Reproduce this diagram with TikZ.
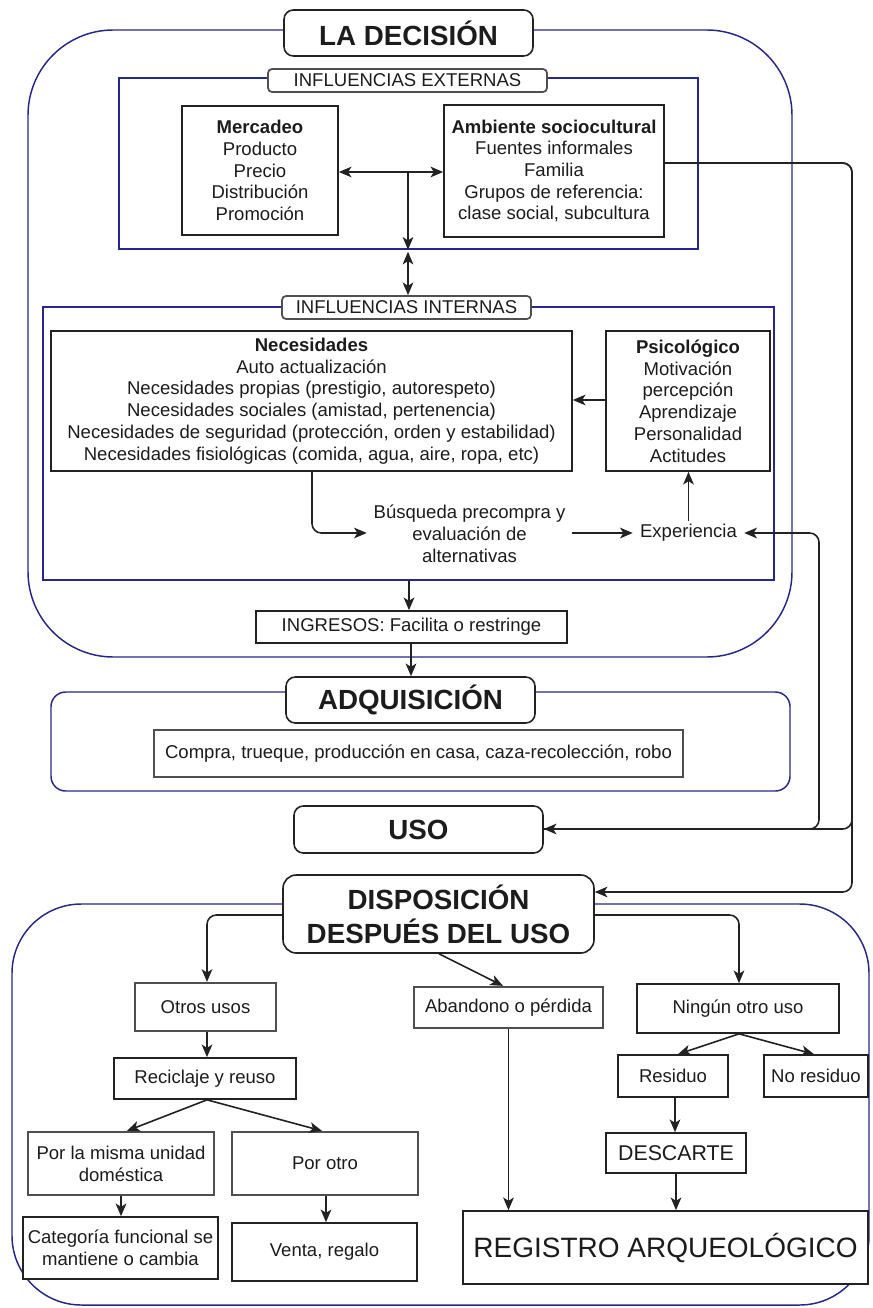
\documentclass[tikz,border=0pt]{standalone}
\usepackage{fontspec}
\setmainfont{Liberation Sans}
\usetikzlibrary{arrows.meta}
\definecolor{navy}{HTML}{26268C}
\definecolor{ink}{HTML}{222222}
\definecolor{edge}{HTML}{4F4F4F}
\definecolor{txt}{HTML}{1C1C1C}
\begin{document}
\begin{tikzpicture}[x=0.75pt,y=-0.75pt,
  every node/.style={font=\fontsize{13.9pt}{16.3pt}\selectfont, text=txt, align=center, inner sep=0pt},
  wh/.style 2 args={minimum width=#1*0.75pt, minimum height=#2*0.75pt},
  frame/.style={draw=navy, line width=1.1pt},
  plain/.style={draw=ink, line width=1.25pt, fill=white},
  graybox/.style={draw=edge, line width=1.7pt, fill=white},
  title/.style={draw=ink, line width=1.2pt, fill=white, rounded corners=7pt,
    font=\bfseries\fontsize{20.8pt}{25.5pt}\selectfont},
  tag/.style={draw=edge, line width=1.3pt, fill=white, rounded corners=3pt},
  tip/.tip={Stealth[length=9.5pt,width=8pt,inset=2.5pt]},
  link/.style={draw=ink, line width=1.2pt, rounded corners=7pt, -tip},
  both/.style={link, tip-tip}
]
\useasboundingbox (0,0) rectangle (872,1308);

% ---- frames ----
\node[frame, wh={764}{627}, rounded corners=64pt] (decF) at (410,343.5) {};
\node[frame, wh={579}{171}] (extF) at (408.5,163.5) {};
\node[frame, wh={731}{273}] (intF) at (408.5,443.5) {};
\node[frame, wh={739}{99}, rounded corners=11pt] (adqF) at (420.5,741.5) {};
\node[frame, wh={857}{401}, rounded corners=52pt] (dispF) at (440.5,1104.5) {};

% ---- decision ----
\node[title, wh={249}{46}] (dec) at (408.5,33) {LA DECISIÓN};
\node[tag, wh={279}{23}] (extL) at (407.5,80.5) {INFLUENCIAS EXTERNAS};
\node[plain, wh={156}{129}] (merc) at (260,170.5)
  {\textbf{Mercadeo}\\Producto\\Precio\\Distribución\\Promoción};
\node[plain, wh={220}{132}] (amb) at (554,171)
  {\textbf{Ambiente sociocultural}\\Fuentes informales\\Familia\\Grupos de referencia:\\clase social, subcultura};
\node[tag, wh={249}{23}] (intL) at (406.5,307.5) {INFLUENCIAS INTERNAS};
\node[plain, wh={521}{140}] (nec) at (311.5,401)
  {\textbf{Necesidades}\\Auto actualización\\Necesidades propias (prestigio, autorespeto)\\Necesidades sociales (amistad, pertenencia)\\Necesidades de seguridad (protección, orden y estabilidad)\\Necesidades fisiológicas (comida, agua, aire, ropa, etc)};
\node[plain, wh={164}{140}] (psi) at (688,401)
  {\textbf{Psicológico}\\Motivación\\percepción\\Aprendizaje\\Personalidad\\Actitudes};
\node[wh={205}{66}, font=\fontsize{13.9pt}{16.5pt}\selectfont] (bus) at (469.5,534)
  {Búsqueda precompra y\\evaluación de\\alternativas};
\node[wh={111}{24}] (exp) at (688.5,533) {Experiencia};
\node[plain, wh={311}{32}] (ing) at (411.5,627) {INGRESOS: Facilita o restringe};

% ---- acquisition and use ----
\node[title, wh={249}{46}] (adq) at (410.5,700) {ADQUISICIÓN};
\node[graybox, wh={529}{47}] (compra) at (418.5,753.5)
  {Compra, trueque, producción en casa, caza-recolección, robo};
\node[title, wh={249}{47}] (uso) at (418.5,829.5) {USO};

% ---- disposal ----
\node[title, wh={311}{78}, rounded corners=10pt] (disp) at (438.5,914)
  {DISPOSICIÓN\\DESPUÉS DEL USO};
\node[graybox, wh={141}{48}] (otros) at (205.5,1007) {Otros usos};
\node[graybox, wh={189}{41}] (aband) at (508.5,1007.5) {Abandono o pérdida};
\node[plain, wh={202}{49}] (ning) at (738,1008.5) {Ningún otro uso};
\node[plain, wh={182}{41}] (recic) at (205,1078.5) {Reciclaje y reuso};
\node[graybox, wh={186}{63}] (misma) at (121,1163.5) {Por la misma unidad\\doméstica};
\node[graybox, wh={186}{63}] (porotro) at (325,1163.5) {Por otro};
\node[plain, wh={195}{62}] (categ) at (120.5,1248) {Categoría funcional se\\mantiene o cambia};
\node[plain, wh={185}{58}] (venta) at (324.5,1252) {Venta, regalo};
\node[plain, wh={110}{42}] (resid) at (673,1076) {Residuo};
\node[plain, wh={104}{42}] (nores) at (816,1076) {No residuo};
\node[plain, wh={140}{40}, font=\fontsize{16pt}{19pt}\selectfont] (desc) at (676,1153) {DESCARTE};
\node[plain, wh={405}{73}, font=\fontsize{21pt}{25pt}\selectfont] (reg) at (665.5,1247.5) {REGISTRO ARQUEOLÓGICO};

% ---- connectors: decision ----
\coordinate (j1) at (408,172);
\draw[both] (merc.east |- j1) -- (amb.west |- j1);
\draw[link] (j1) -- (j1 |- extF.south);
\draw[both] ([yshift=-1.5pt]j1 |- extF.south) -- (j1 |- intL.north);
\draw[link] (psi.west |- 0,400) -- (nec.east |- 0,400);
\draw[link] (nec.south -| 312,0) -- (312,533) -- (bus.west |- 0,533);
\draw[link] (bus.east |- 0,533) -- (exp.west |- 0,533);
\draw[link] (exp.north) -- (psi.south -| exp.north);
\draw[link] (intF.south -| 409,0) -- (ing.north -| 409,0);
\draw[link] (ing.south -| 411,0) -- (adq.north -| 411,0);

% ---- connectors: feedback to use and disposal ----
\draw[link] (amb.east |- 0,163) -- (852,163) -- (852,829) -- (uso.east |- 0,829);
\draw[link] (amb.east |- 0,163) -- (852,163) -- (852,892) -- (disp.east |- 0,892);
\draw[link] (uso.east |- 0,829) -- (819,829) -- (819,533) -- (exp.east |- 0,533);

% ---- connectors: disposal ----
\draw[link] (disp.west |- 0,915) -- (207,915) -- (otros.north -| 207,0);
\draw[link] (disp.south -| 439,0) -- (aband.north -| 503,0);
\draw[link] (disp.east |- 0,915) -- (739,915) -- (ning.north -| 739,0);
\draw[link] (otros.south -| 207,0) -- (recic.north -| 207,0);
\draw[link] (recic.south -| 207,0) -- (misma.north -| 127,0);
\draw[link] (recic.south -| 207,0) -- (porotro.north -| 322,0);
\draw[link] (misma.south -| 121,0) -- (categ.north -| 121,0);
\draw[link] (porotro.south -| 326,0) -- (venta.north -| 326,0);
\draw[link] (aband.south) -- (reg.north -| aband.south);
\draw[link] (ning.south -| 739,0) -- (resid.north -| 678,0);
\draw[link] (ning.south -| 739,0) -- (nores.north -| 814,0);
\draw[link] (resid.south -| 675,0) -- (desc.north -| 675,0);
\draw[link] (desc.south -| 676,0) -- (reg.north -| 676,0);
\end{tikzpicture}
\end{document}
